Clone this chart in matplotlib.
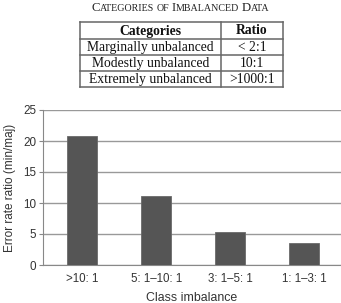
import matplotlib
matplotlib.use("Agg")
import matplotlib.pyplot as plt

categories = [">10: 1", "5: 1\u201310: 1", "3: 1\u20135: 1", "1: 1\u20133: 1"]
values = [20.8, 11.2, 5.4, 3.6]
yticks = [0, 5, 10, 15, 20, 25]

table_header = ["Categories", "Ratio"]
table_rows = [["Marginally unbalanced", "< 2:1"],
              ["Modestly unbalanced", "10:1"],
              ["Extremely unbalanced", ">1000:1"]]

W, H = 341, 303
fig = plt.figure(figsize=(W / 100, H / 100), dpi=100)

def fx(px):
    return px / W
def fy(py):
    return 1 - py / H

serif = "Liberation Serif"
title_words = ["Categories", "of", "Imbalanced", "Data"]
renderer = fig.canvas.get_renderer()
pieces = []
for i, w in enumerate(title_words):
    if i > 0:
        pieces.append((" ", 7.2))
    if w == "of":
        pieces.append(("OF", 7.2))
    else:
        pieces.append((w[0].upper(), 9.2))
        pieces.append((w[1:].upper(), 7.2))
widths = []
for s, sz in pieces:
    t = fig.text(0, 0, s, fontsize=sz, family=serif)
    bb = t.get_window_extent(renderer=renderer)
    widths.append(bb.width if s.strip() else sz * 0.25 * 100 / 72)
    t.remove()
total = sum(widths)
x = (93 + 268) / 2 - total / 2
for (s, sz), wdt in zip(pieces, widths):
    fig.text(fx(x), fy(11), s, fontsize=sz, family=serif, ha="left",
             va="baseline", color="#222222")
    x += wdt

# Table
tab_left, tab_right = 80, 283
col_div = 221
row_edges = [22, 39, 55, 71, 87]
lc = "#666666"
tax = fig.add_axes([0, 0, 1, 1])
tax.set_xlim(0, W)
tax.set_ylim(H, 0)
tax.axis("off")
for yv in row_edges:
    tax.plot([tab_left, tab_right], [yv, yv], color=lc, lw=1.1)
for xv in [tab_left, col_div, tab_right]:
    tax.plot([xv, xv], [row_edges[0], row_edges[-1]], color=lc, lw=1.1)
rows = [table_header] + table_rows
for i, row in enumerate(rows):
    yc = (row_edges[i] + row_edges[i + 1]) / 2 + 0.5
    wt = "bold" if i == 0 else "normal"
    tax.text((tab_left + col_div) / 2, yc, row[0], ha="center", va="center",
             fontsize=9.8, family=serif, fontweight=wt, color="#111111")
    tax.text((col_div + tab_right) / 2, yc, row[1], ha="center", va="center",
             fontsize=9.8, family=serif, fontweight=wt, color="#111111")

# Bar chart
ax_left, ax_right, ax_top, ax_bottom = 43, 341, 110, 265
ax = fig.add_axes([fx(ax_left), fy(ax_bottom), (ax_right - ax_left) / W,
                   (ax_bottom - ax_top) / H])
xpos = list(range(len(categories)))
ax.bar(xpos, values, width=0.405, color="#555555", edgecolor="#6a6a6a",
       linewidth=0.6, zorder=3)
ax.set_xlim(-0.53, 3.5)
ax.set_ylim(0, 25)
ax.set_yticks(yticks)
ax.set_xticks(xpos)
ax.set_xticklabels(categories)
ax.yaxis.grid(True, color="#999999", lw=1.0, zorder=0)
for s in ["top", "right"]:
    ax.spines[s].set_visible(False)
ax.spines["left"].set_color("#888888")
ax.spines["bottom"].set_color("#888888")
ax.tick_params(axis="y", length=3, color="#888888", labelsize=8.4,
               labelcolor="#333333", pad=2)
ax.tick_params(axis="x", length=0, labelsize=8.3, labelcolor="#333333", pad=6)
for lab in ax.get_xticklabels() + ax.get_yticklabels():
    lab.set_family("Liberation Sans")
ax.set_xlabel("Class imbalance", fontsize=8.9, family="Liberation Sans",
              color="#333333", labelpad=5)
ax.set_ylabel("Error rate ratio (min/maj)", fontsize=8.5,
              family="Liberation Sans", color="#333333", labelpad=5)

fig.savefig("out.png", dpi=100, facecolor="white")
